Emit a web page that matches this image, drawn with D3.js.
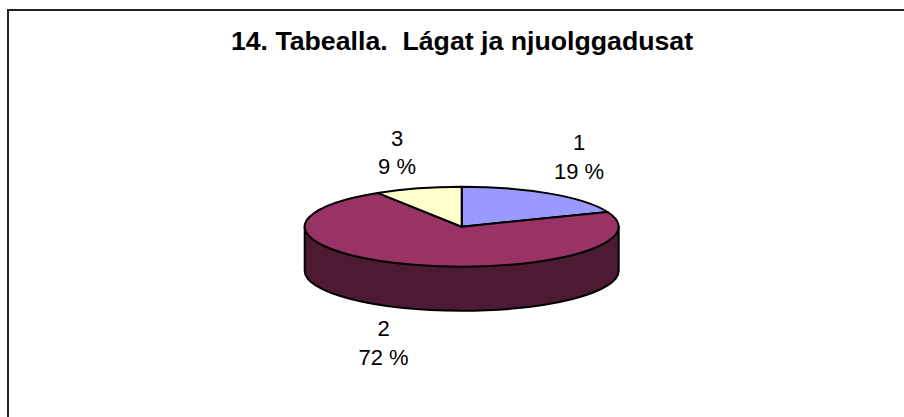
<!DOCTYPE html>
<html><head><meta charset="utf-8">
<script src="https://cdn.jsdelivr.net/npm/d3@7/dist/d3.min.js"></script>
<style>html,body{margin:0;padding:0;background:#fff}svg{display:block}text{font-family:"Liberation Sans",Arial,sans-serif;fill:#000}</style>
</head><body><div id="c"></div>
<script>
const categories = ["1","2","3"];
const values = [19,72,9];
const labels = ["19 %","72 %","9 %"];
const colors = ["#9999ff","#993366","#ffffcc"];
const sideColor = "#4d1a33";
const title = "14. Tabealla.  Lágat ja njuolggadusat";

const W=904,H=417,cx=461.7,cy=226.7,rx=157,ry=40,depth=44;
const svg=d3.select("#c").append("svg").attr("width",W).attr("height",H);
svg.append("rect").attr("x",8).attr("y",10).attr("width",W).attr("height",H).attr("fill","#fff").attr("stroke","#222").attr("stroke-width",2);
svg.append("text").attr("x",462).attr("y",50).attr("text-anchor","middle").attr("font-size",26.7).attr("font-weight","bold").style("white-space","pre").text(title);

const pie=d3.pie().sort(null).value(d=>d.v);
const arcs=pie(categories.map((c,i)=>({c,v:values[i],l:labels[i],col:colors[i]})));
const x=a=>cx+rx*Math.sin(a), y=a=>cy-ry*Math.cos(a);
const big=(a0,a1)=>Math.abs(a1-a0)>Math.PI?1:0;

svg.append("path").attr("fill",sideColor).attr("stroke","#000").attr("stroke-width",2)
 .attr("d",`M${cx-rx},${cy}L${cx-rx},${cy+depth}A${rx},${ry} 0 0 0 ${cx+rx},${cy+depth}L${cx+rx},${cy}Z`);
svg.selectAll("path.s").data(arcs).join("path").attr("class","s")
 .attr("fill",d=>d.data.col).attr("stroke","#000").attr("stroke-width",2).attr("stroke-linejoin","round")
 .attr("d",d=>`M${cx},${cy}L${x(d.startAngle)},${y(d.startAngle)}A${rx},${ry} 0 ${big(d.startAngle,d.endAngle)} 1 ${x(d.endAngle)},${y(d.endAngle)}Z`);

const pos={"1":[579,150,179],"2":[383.5,336,365],"3":[397,146,174]};
const gl=svg.selectAll("g.l").data(arcs).join("g").attr("class","l");
gl.append("text").attr("text-anchor","middle").attr("font-size",22).attr("x",d=>pos[d.data.c][0]).attr("y",d=>pos[d.data.c][1]).text(d=>d.data.c);
gl.append("text").attr("text-anchor","middle").attr("font-size",22).attr("x",d=>pos[d.data.c][0]).attr("y",d=>pos[d.data.c][2]).text(d=>d.data.l);
</script></body></html>
